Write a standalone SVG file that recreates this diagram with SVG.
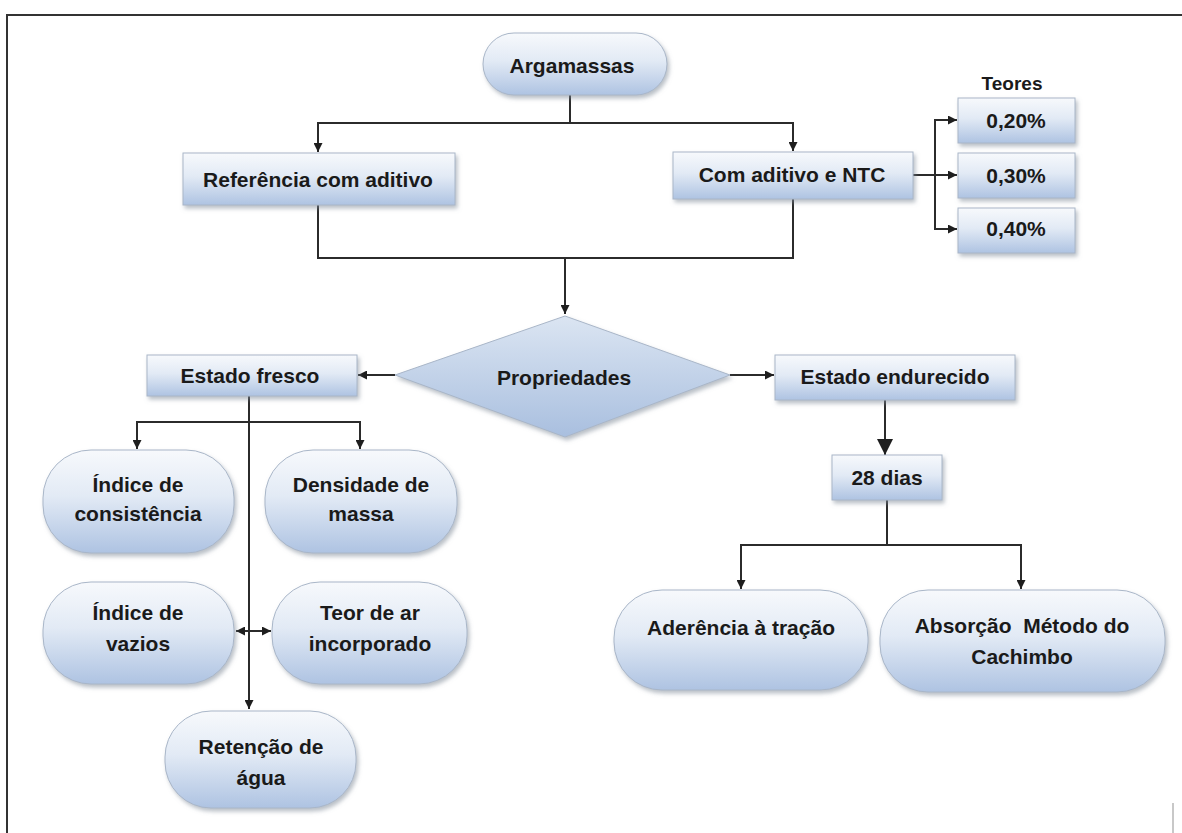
<svg xmlns="http://www.w3.org/2000/svg" width="1182" height="833" viewBox="0 0 1182 833">
<style>
text{font-family:"Liberation Sans",Arial,sans-serif;font-weight:bold;font-size:21px;fill:#1a1a1a;text-anchor:middle}
.n{fill:url(#g);stroke:#a9b6c8;stroke-width:1;filter:url(#sh)}
.c{fill:none;stroke:#2b2b2b;stroke-width:2}
.a{marker-end:url(#ar)}
</style>
<defs>
<linearGradient id="g" x1="0" y1="0" x2="0" y2="1">
<stop offset="0" stop-color="#f7f9fc"/>
<stop offset="0.45" stop-color="#e2eaf5"/>
<stop offset="1" stop-color="#aec3e2"/>
</linearGradient>
<linearGradient id="gd" x1="0" y1="0" x2="0" y2="1">
<stop offset="0" stop-color="#dbe5f2"/>
<stop offset="1" stop-color="#a9bfdf"/>
</linearGradient>
<filter id="sh" x="-10%" y="-10%" width="125%" height="130%">
<feDropShadow dx="2" dy="3" stdDeviation="2" flood-color="#7f8a99" flood-opacity="0.55"/>
</filter>
<marker id="ar" viewBox="0 0 10 10" refX="10" refY="5" markerWidth="9" markerHeight="9" markerUnits="userSpaceOnUse" orient="auto">
<path d="M0 0 L10 5 L0 10 z" fill="#1e1e1e"/>
</marker>
<marker id="arb" viewBox="0 0 10 10" refX="10" refY="5" markerWidth="16" markerHeight="16" markerUnits="userSpaceOnUse" orient="auto">
<path d="M0 0 L10 5 L0 10 z" fill="#1e1e1e"/>
</marker>
</defs>
<rect width="1182" height="833" fill="#ffffff"/>
<path d="M7 833 V15 H1182" fill="none" stroke="#333" stroke-width="2"/>
<path d="M1173 803 V833" stroke="#c8c8c8" stroke-width="2"/>

<g id="connectors">
<path class="c a" d="M570 95 V123 H318 V152"/>
<path class="c a" d="M570 123 H793 V151"/>
<path class="c a" d="M913 175 H957"/>
<path class="c a" d="M935 175 V120 H957"/>
<path class="c a" d="M935 175 V229 H957"/>
<path class="c a" d="M318 205 V258 H565 V314"/>
<path class="c" d="M793 199 V258 H565"/>
<path class="c a" d="M395 375 H358"/>
<path class="c a" d="M730 375 H774"/>
<path class="c" d="M885 400 V455" marker-end="url(#arb)"/>
<path class="c a" d="M887 500 V545 H741 V589"/>
<path class="c a" d="M887 545 H1021 V589"/>
<path class="c a" d="M249 396 V422 H137 V449"/>
<path class="c a" d="M249 422 H360 V449"/>
<path class="c a" d="M249 396 V709"/>
<path class="c a" d="M249 631 H236"/>
<path class="c a" d="M249 631 H271"/>
</g>

<g id="argamassas"><rect class="n" x="483" y="33" width="184" height="62" rx="31"/><text x="572" y="73">Argamassas</text></g>
<g id="referencia"><rect class="n" x="183" y="153" width="272" height="52"/><text x="318" y="187">Referência com aditivo</text></g>
<g id="ntc"><rect class="n" x="673" y="152" width="240" height="47"/><text x="792" y="182">Com aditivo e NTC</text></g>
<g id="teores"><text x="1012" y="90" style="font-size:19px">Teores</text></g>
<g id="t020"><rect class="n" x="958" y="98" width="117" height="45"/><text x="1016" y="128">0,20%</text></g>
<g id="t030"><rect class="n" x="958" y="153" width="117" height="45"/><text x="1016" y="183">0,30%</text></g>
<g id="t040"><rect class="n" x="958" y="208" width="117" height="45"/><text x="1016" y="236">0,40%</text></g>
<g id="propriedades"><path d="M565 316 L730 375 L565 437 L395 375 Z" fill="url(#gd)" stroke="#a9b6c8" filter="url(#sh)"/><text x="564" y="385">Propriedades</text></g>
<g id="fresco"><rect class="n" x="147" y="355" width="210" height="41"/><text x="250" y="383">Estado fresco</text></g>
<g id="endurecido"><rect class="n" x="775" y="355" width="240" height="45"/><text x="895" y="384">Estado endurecido</text></g>
<g id="dias28"><rect class="n" x="832" y="455" width="110" height="45"/><text x="887" y="485">28 dias</text></g>
<g id="aderencia"><rect class="n" x="614" y="590" width="254" height="100" rx="48"/><text x="741" y="635">Aderência à tração</text></g>
<g id="absorcao"><rect class="n" x="880" y="590" width="285" height="102" rx="48"/><text x="1022" y="633" style="white-space:pre">Absorção  Método do</text><text x="1022" y="664">Cachimbo</text></g>
<g id="consistencia"><rect class="n" x="43" y="450" width="191" height="103" rx="48"/><text x="138" y="492">Índice de</text><text x="138" y="521">consistência</text></g>
<g id="densidade"><rect class="n" x="265" y="450" width="192" height="103" rx="48"/><text x="361" y="492">Densidade de</text><text x="361" y="521">massa</text></g>
<g id="vazios"><rect class="n" x="43" y="582" width="191" height="102" rx="48"/><text x="138" y="620">Índice de</text><text x="138" y="651">vazios</text></g>
<g id="teorar"><rect class="n" x="272" y="582" width="195" height="102" rx="48"/><text x="370" y="620">Teor de ar</text><text x="370" y="651">incorporado</text></g>
<g id="retencao"><rect class="n" x="165" y="711" width="191" height="97" rx="46"/><text x="261" y="754">Retenção de</text><text x="261" y="785">água</text></g>
</svg>
